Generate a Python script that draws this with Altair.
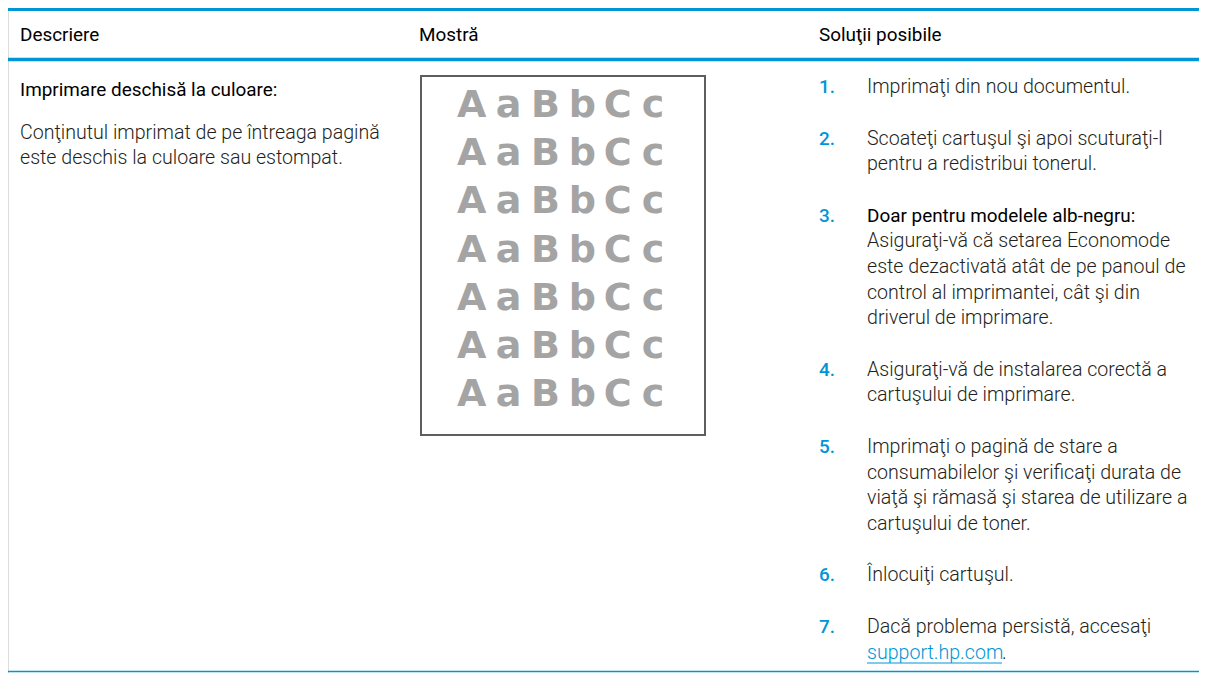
import altair as alt
import pandas as pd

# ---------------- content ----------------
HEADERS = ["Descriere", "Mostră", "Soluţii posibile"]
DESC_TITLE = "Imprimare deschisă la culoare:"
DESC_LINES = [
    "Conţinutul imprimat de pe întreaga pagină",
    "este deschis la culoare sau estompat.",
]
SAMPLE_TEXT = "AaBbCc"
SAMPLE_ROWS = 7
STEP_NUMBERS = ["1.", "2.", "3.", "4.", "5.", "6.", "7."]
LINK_TEXT = "support.hp.com"
LINK_TAIL = "."
STEPS = [
    ["Imprimaţi din nou documentul."],
    ["Scoateţi cartuşul şi apoi scuturaţi-l", "pentru a redistribui tonerul."],
    ["Doar pentru modelele alb-negru:", "Asiguraţi-vă că setarea Economode",
     "este dezactivată atât de pe panoul de", "control al imprimantei, cât şi din",
     "driverul de imprimare."],
    ["Asiguraţi-vă de instalarea corectă a", "cartuşului de imprimare."],
    ["Imprimaţi o pagină de stare a", "consumabilelor şi verificaţi durata de",
     "viaţă şi rămasă şi starea de utilizare a", "cartuşului de toner."],
    ["Înlocuiţi cartuşul."],
    ["Dacă problema persistă, accesaţi", LINK_TEXT + LINK_TAIL],
]
BOLD_LINES = {(2, 0)}          # step 3, first line is a sub-heading
LINK_LINE = (6, 1)             # step 7, second line is the web link

# ---------------- layout (page pixels) ----------------
W, H = 1191, 665
BLUE = "#0096d6"
TEXT = "#231f20"
FONT = "Roboto"
FS_BODY, FS_HEAD = 19.6, 18.9
COL_X = [20, 419, 819]
STEP_TEXT_X = 867
HEADER_Y = 40.5
TOP_RULE_Y, HEAD_RULE_Y, BOTTOM_RULE_Y = 9.5, 59.5, 671.5
DESC_TITLE_Y = 95.5
DESC_Y0, LH = 138.5, 25.6
FIRST_STEP_Y, PARA_GAP = 93, 26
BOX = (421, 76, 705, 435)
SAMPLE_Y0, SAMPLE_STEP = 117, 48.2
SAMPLE_SPAN = (452, 670)
GLYPH_REL = [0.778, 0.667, 0.778, 0.667, 0.722, 0.667]
LINK_END = 1002
LINK_UNDERLINE_Y = 663

xs = alt.Scale(domain=[8, 8 + W], range=[0, W])
ys = alt.Scale(domain=[8, 8 + H], range=[0, H])


def X(f="x"):
    return alt.X(f"{f}:Q", scale=xs, axis=None)


def Y(f="y"):
    return alt.Y(f"{f}:Q", scale=ys, axis=None)


def text_layer(df, size, weight, color, align="left", font=FONT):
    return alt.Chart(pd.DataFrame(df)).mark_text(
        align=align, baseline="alphabetic", font=font, fontSize=size,
        fontWeight=weight, color=color).encode(x=X(), y=Y(), text="t:N")


# rules
rules = pd.DataFrame([
    {"x": 8, "x2": 8 + W, "y": TOP_RULE_Y, "w": 3},
    {"x": 8, "x2": 8 + W, "y": HEAD_RULE_Y, "w": 3.5},
    {"x": 8, "x2": 8 + W, "y": BOTTOM_RULE_Y, "w": 1.5},
])
rule_layer = alt.Chart(rules).mark_rule(color=BLUE).encode(
    x=X(), x2="x2:Q", y=Y(),
    strokeWidth=alt.StrokeWidth("w:Q", scale=None, legend=None),
)

# headers
hdr_layer = text_layer({"x": COL_X, "y": [HEADER_Y] * 3, "t": HEADERS},
                       FS_HEAD, 400, "#000000")

# description column
dt_layer = text_layer({"x": [COL_X[0]], "y": [DESC_TITLE_Y], "t": [DESC_TITLE]},
                      FS_HEAD, 400, "#000000")
db_layer = text_layer({"x": [COL_X[0]] * len(DESC_LINES),
                       "y": [DESC_Y0 + i * LH for i in range(len(DESC_LINES))],
                       "t": DESC_LINES}, FS_BODY, 300, TEXT)

# sample box
box = pd.DataFrame([{"x": BOX[0], "x2": BOX[2], "y": BOX[1], "y2": BOX[3]}])
box_layer = alt.Chart(box).mark_rect(
    fill="white", stroke="#5e5e5e", strokeWidth=2).encode(
    x=X(), x2="x2:Q", y=Y(), y2="y2:Q")

unit = (SAMPLE_SPAN[1] - SAMPLE_SPAN[0]) / sum(GLYPH_REL)
centers, acc = [], SAMPLE_SPAN[0]
for r in GLYPH_REL:
    centers.append(acc + r * unit / 2)
    acc += r * unit
srows = {"x": [], "y": [], "t": []}
for i in range(SAMPLE_ROWS):
    for c, cx in zip(SAMPLE_TEXT, centers):
        srows["x"].append(cx)
        srows["y"].append(SAMPLE_Y0 + i * SAMPLE_STEP)
        srows["t"].append(c)
sample_layer = text_layer(srows, 38, "bold", "#a4a4a4", align="center",
                          font="DejaVu Sans")

# steps
nums = {"x": [], "y": [], "t": []}
body = {"x": [], "y": [], "t": []}
bold = {"x": [], "y": [], "t": []}
link = {"x": [], "y": [], "t": []}
tail = {"x": [], "y": [], "t": []}
y = FIRST_STEP_Y
for i, lines in enumerate(STEPS):
    nums["x"].append(COL_X[2]); nums["y"].append(y); nums["t"].append(STEP_NUMBERS[i])
    for j, line in enumerate(lines):
        ly = y + j * LH
        if (i, j) == LINK_LINE:
            link["x"].append(STEP_TEXT_X); link["y"].append(ly)
            link["t"].append(line[:len(LINK_TEXT)])
            tail["x"].append(LINK_END); tail["y"].append(ly)
            tail["t"].append(line[len(LINK_TEXT):])
            continue
        d = bold if (i, j) in BOLD_LINES else body
        d["x"].append(STEP_TEXT_X); d["y"].append(ly); d["t"].append(line)
    y += len(lines) * LH + PARA_GAP

num_layer = text_layer(nums, FS_HEAD, 500, BLUE)
body_layer = text_layer(body, FS_BODY, 300, TEXT)
bold_layer = text_layer(bold, FS_HEAD, 400, "#000000")
link_layer = text_layer(link, FS_BODY, 300, BLUE)
tail_layer = text_layer(tail, FS_BODY, 300, TEXT)
ul = pd.DataFrame([{"x": STEP_TEXT_X, "x2": LINK_END, "y": LINK_UNDERLINE_Y}])
ul_layer = alt.Chart(ul).mark_rule(color=BLUE, strokeWidth=1).encode(
    x=X(), x2="x2:Q", y=Y())

chart = alt.layer(
    rule_layer, hdr_layer, dt_layer, db_layer, box_layer, sample_layer,
    num_layer, body_layer, bold_layer, link_layer, tail_layer, ul_layer,
).properties(
    width=W, height=H, padding=0,
    autosize=alt.AutoSizeParams(type="none"),
).configure_view(stroke="transparent", strokeWidth=0).configure(background="white")

chart.save("out.html", embed_options={"renderer": "svg", "actions": False})
